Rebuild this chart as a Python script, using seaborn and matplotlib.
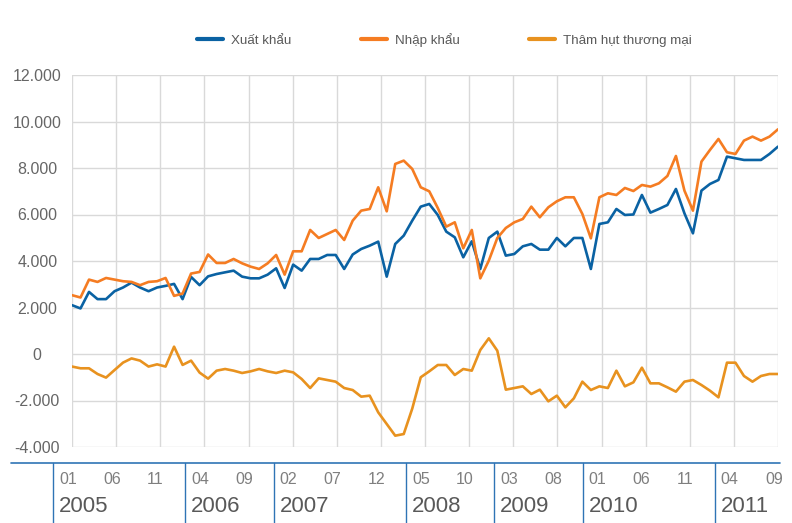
import numpy as np
import pandas as pd
import matplotlib
matplotlib.use("Agg")
import matplotlib.pyplot as plt
import matplotlib.transforms as mtransforms
from matplotlib.lines import Line2D
from matplotlib.ticker import FuncFormatter
import seaborn as sns

# so lieu hang thang, 01/2005 - 12/2011 (trieu USD)
xuat_khau = [2100, 1960, 2670, 2360, 2360, 2700, 2860, 3070, 2860, 2700, 2860, 2930,
             3015, 2360, 3315, 2960, 3340, 3440, 3513, 3585, 3327, 3255, 3255, 3413,
             3685, 2839, 3843, 3585, 4087, 4087, 4259, 4259, 3657, 4280, 4517, 4660,
             4833, 3327, 4732, 5091, 5736, 6338, 6453, 5980, 5263, 5019, 4159, 4847,
             3657, 4990, 5263, 4230, 4302, 4632, 4732, 4488, 4488, 4990, 4632, 4990,
             4990, 3657, 5593, 5664, 6238, 5980, 6000, 6840, 6080, 6238, 6410, 7098,
             6051, 5191, 7027, 7313, 7485, 8489, 8418, 8346, 8346, 8346, 8604, 8920]
nhap_khau = [2530, 2430, 3200, 3100, 3270, 3200, 3130, 3100, 2960, 3100, 3130, 3270,
             2500, 2600, 3460, 3530, 4280, 3915, 3915, 4087, 3900, 3757, 3657, 3900,
             4259, 3413, 4417, 4417, 5335, 4990, 5162, 5335, 4904, 5736, 6166, 6238,
             7170, 6137, 8174, 8317, 7959, 7170, 6998, 6281, 5478, 5664, 4546, 5334,
             3255, 4015, 4990, 5420, 5664, 5808, 6338, 5880, 6310, 6568, 6740, 6740,
             6023, 4976, 6740, 6912, 6840, 7141, 7010, 7270, 7199, 7342, 7658, 8518,
             7027, 6166, 8274, 8776, 9249, 8676, 8604, 9178, 9350, 9178, 9350, 9665]
tham_hut = [-540, -615, -615, -860, -1015, -690, -370, -190, -285, -540, -445, -540,
            315, -470, -285, -800, -1060, -717, -645, -717, -817, -746, -645, -746,
            -817, -717, -789, -1075, -1463, -1047, -1118, -1190, -1463, -1550, -1835, -1792,
            -2510, -3011, -3513, -3442, -2350, -1000, -746, -473, -473, -903, -645, -717,
            172, 674, 143, -1534, -1463, -1391, -1721, -1534, -2036, -1792, -2294, -1907,
            -1190, -1549, -1391, -1463, -717, -1391, -1219, -588, -1262, -1262, -1434, -1620,
            -1190, -1118, -1334, -1577, -1864, -373, -373, -946, -1190, -946, -860, -860]

ten_chuoi = ["Xuất khẩu", "Nhập khẩu", "Thâm hụt thương mại"]
mau = ["#0a62a3", "#f57c22", "#e8921f"]
nhan_thang = ["01", "06", "11", "04", "09", "02", "07", "12", "05", "10",
              "03", "08", "01", "06", "11", "04", "09"]
nam = {0: "2005", 3: "2006", 5: "2007", 8: "2008", 10: "2009", 12: "2010", 15: "2011"}

sns.set_style("white")
plt.rcParams["font.family"] = ["Liberation Sans", "DejaVu Sans"]

df = pd.DataFrame({"thang": np.arange(len(xuat_khau)),
                   ten_chuoi[0]: xuat_khau,
                   ten_chuoi[1]: nhap_khau,
                   ten_chuoi[2]: tham_hut})
df = df.melt(id_vars="thang", var_name="chuoi", value_name="gia_tri")

fig = plt.figure(figsize=(7.92, 5.23), dpi=100)
ax = fig.add_axes([72/792, 1-447/523, 706/792, 372/523])
sns.lineplot(data=df, x="thang", y="gia_tri", hue="chuoi", hue_order=ten_chuoi,
             palette=mau, linewidth=1.9, ax=ax)

n = len(xuat_khau) - 1
ax.set_xlim(0, n)
ax.set_ylim(-4000, 12000)
ticks = np.linspace(0, n, 17)
ax.set_xticks(ticks)
ax.set_xticklabels([])
ax.set_yticks(range(-4000, 12001, 2000))
ax.yaxis.set_major_formatter(FuncFormatter(lambda v, p: f"{int(v):,}".replace(",", ".")))
ax.tick_params(length=0, labelsize=11.5, labelcolor="#666666", pad=25)
for t in ax.get_yticklabels():
    t.set_horizontalalignment("center")
ax.grid(True, color="#d9d9d9", lw=1.0)
for s in ax.spines.values():
    s.set_visible(False)
ax.set_xlabel("")
ax.set_ylabel("")

# legend tren cung
sns.move_legend(ax, "center left", bbox_to_anchor=(197/792, 1-40/523),
                bbox_transform=fig.transFigure, ncol=3, frameon=False, title=None,
                handlelength=1.95, handletextpad=0.6, columnspacing=5.2,
                borderpad=0, borderaxespad=0, fontsize=9.6)
leg = ax.get_legend()
for h in leg.legend_handles:
    h.set_linewidth(3.0)
    h.set_solid_capstyle("round")
for t in leg.get_texts():
    t.set_color("#595959")

# hop nhan thang / nam ben duoi
tr = mtransforms.blended_transform_factory(ax.transData, fig.transFigure)
y_top = 1 - 463/523
fig.add_artist(Line2D([11/792, 780/792], [y_top, y_top], transform=fig.transFigure,
                      color="#2f74b5", lw=1.2))
for k, lab in enumerate(nhan_thang):
    ax.text(ticks[k] - 1.53, 1 - 480/523, lab, transform=tr, ha="left", va="center",
            fontsize=11.5, color="#7f7f7f")
for k, y in nam.items():
    xs = ticks[k] - 2.23
    fig.add_artist(Line2D([xs, xs], [y_top, 0], transform=tr, color="#2f74b5", lw=1.0))
    ax.text(ticks[k] - 1.53, 1 - 507/523, y, transform=tr, ha="left", va="center",
            fontsize=16, color="#595959")

fig.savefig("out.png", dpi=100)
